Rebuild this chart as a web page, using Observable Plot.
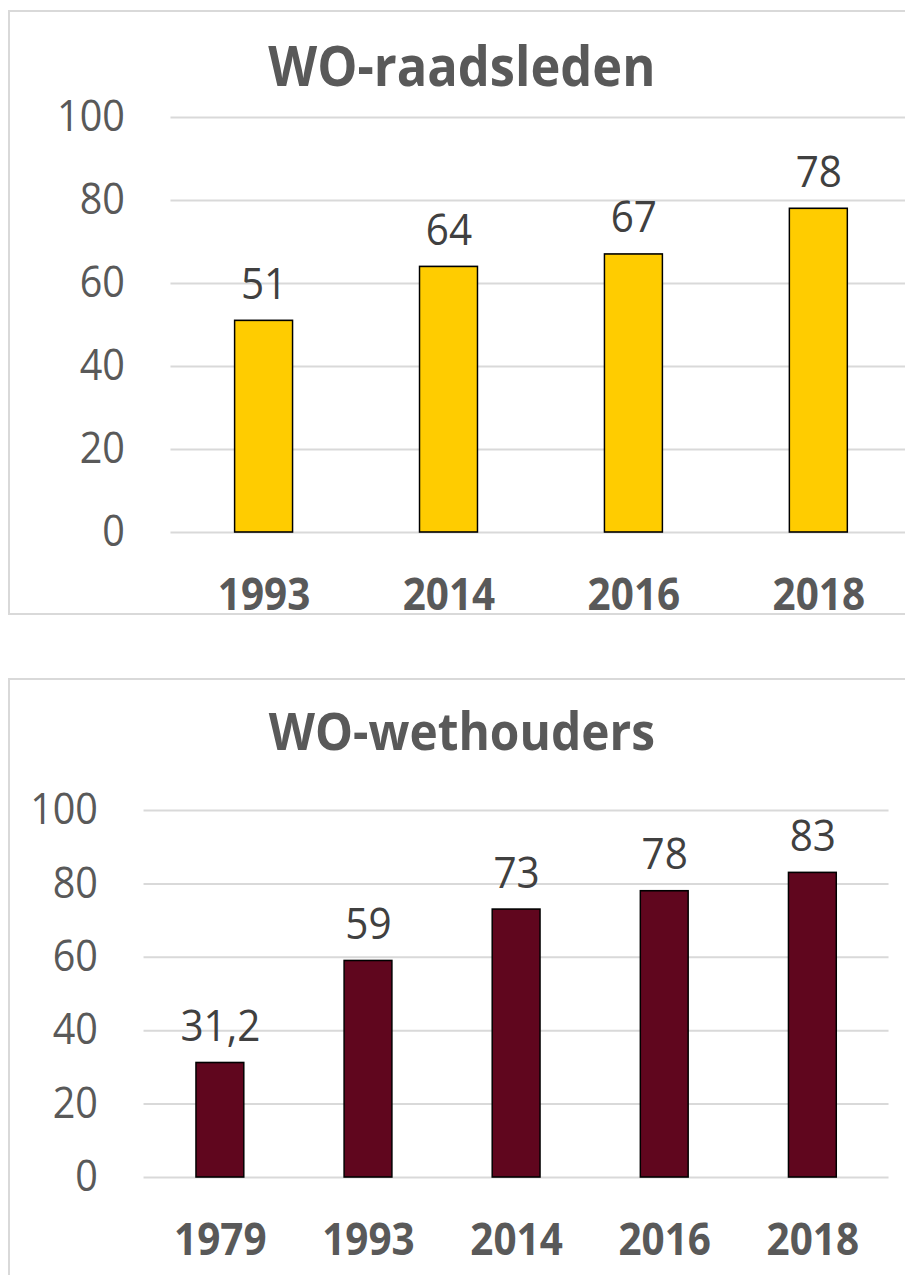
<!DOCTYPE html>
<html>
<head>
<meta charset="utf-8">
<script src="https://cdn.jsdelivr.net/npm/d3@7"></script>
<script src="https://cdn.jsdelivr.net/npm/@observablehq/plot@0.6"></script>
<style>
  html, body { margin: 0; padding: 0; background: #fff; overflow: hidden; }
  body { width: 905px; height: 1275px; position: relative; font-family: "Open Sans", sans-serif; }
  .panel { position: absolute; border: 2px solid #d9d9d9; box-sizing: border-box; }
  #wrap { position: absolute; left: 0; top: 0; width: 1100px; height: 1275px; transform: scaleX(0.92); transform-origin: 0 0; }
  .title { position: absolute; left: 0; width: 1004px; text-align: center; font-weight: 700; color: #595959; line-height: 1; white-space: nowrap; }
  .chart { position: absolute; left: 0; }
  .chart svg { overflow: visible; max-width: none !important; }
</style>
</head>
<body>
<div class="panel" style="left:8px; top:10px; width:920px; height:605px;"></div>
<div class="panel" style="left:8px; top:678px; width:920px; height:700px;"></div>
<div id="wrap">
  <div class="title" id="t1" style="top:37px; font-size:55px;">WO-raadsleden</div>
  <div class="chart" id="c1" style="top:100px;"></div>
  <div class="title" id="t2" style="top:704px; font-size:52px;">WO-wethouders</div>
  <div class="chart" id="c2" style="top:780px;"></div>
</div>
<script>
const yTicks = [0, 20, 40, 60, 80, 100];

const years1 = ["1993", "2014", "2016", "2018"];
const values1 = [51, 64, 67, 78];

const years2 = ["1979", "1993", "2014", "2016", "2018"];
const values2 = [31.2, 59, 73, 78, 83];

const fmt = v => String(v).replace(".", ",");

function makeChart(years, values, opts) {
  const data = years.map((y, i) => ({year: y, value: values[i]}));
  return Plot.plot({
    width: opts.width,
    height: opts.height,
    marginLeft: opts.marginLeft,
    marginRight: opts.marginRight,
    marginTop: opts.marginTop,
    marginBottom: opts.marginBottom,
    style: {fontFamily: "'Open Sans', sans-serif", background: "transparent", overflow: "visible"},
    x: {type: "band", domain: years, paddingInner: opts.padding, paddingOuter: opts.padding / 2, axis: null},
    y: {domain: [0, 100], axis: null},
    marks: [
      Plot.ruleY(yTicks, {stroke: "#d9d9d9", strokeWidth: 2}),
      Plot.axisY({ticks: yTicks, label: null, tickSize: 0, tickPadding: 50, fontSize: 43, fill: "#595959", tickFormat: d => String(d)}),
      Plot.barY(data, {x: "year", y: "value", fill: opts.fill, stroke: "#000", strokeWidth: 1.6}),
      Plot.text(data, {x: "year", y: "value", text: d => fmt(d.value), dy: -22, lineAnchor: "bottom", fontSize: 44, fill: "#404040"}),
      Plot.text(data, {x: "year", y: () => 0, text: "year", dy: 63, lineAnchor: "middle", fontSize: 44, fontWeight: "bold", fill: "#595959"})
    ]
  });
}

document.getElementById("c1").append(makeChart(years1, values1, {
  width: 1010, height: 525, marginLeft: 185.3, marginRight: 19.8, marginTop: 17, marginBottom: 93,
  padding: 0.686, fill: "#FFCC00"
}));

document.getElementById("c2").append(makeChart(years2, values2, {
  width: 985, height: 495, marginLeft: 156, marginRight: 19.2, marginTop: 30, marginBottom: 98,
  padding: 0.678, fill: "#60061E"
}));
</script>
</body>
</html>
